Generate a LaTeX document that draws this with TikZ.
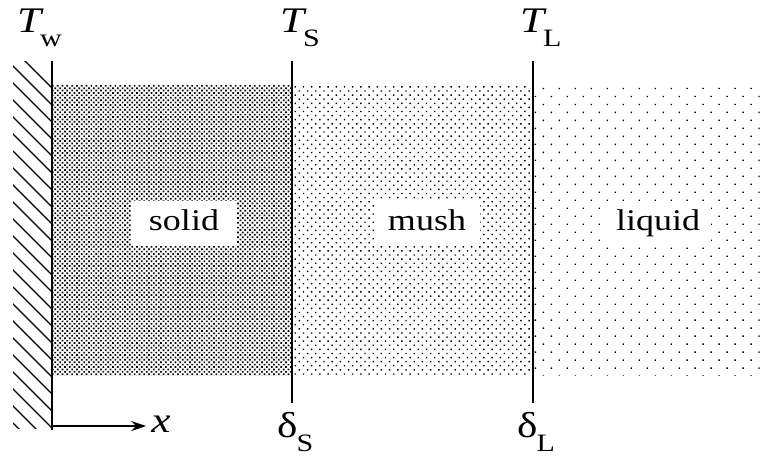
\documentclass[tikz,border=0pt]{standalone}
\usepackage{fontspec}
\setmainfont{Liberation Serif}
\usetikzlibrary{patterns.meta,arrows.meta}
\newcommand{\hwide}[1]{\scalebox{1.2}[1]{#1}}
\newcommand{\bigT}{\fontsize{36}{40}\selectfont}
\newcommand{\subf}{\fontsize{25}{28}\selectfont}
\newcommand{\regf}{\fontsize{30}{33}\selectfont}
\newcommand{\withsub}[2]{{\bigT\hwide{#1}}\kern-1pt\raisebox{-14pt}{\subf\hwide{#2}}}
\tikzset{
  region/.style={fill=white, minimum width=106pt, minimum height=45pt, inner sep=0pt,
    text height=21pt, text depth=7pt, font=\regf},
  bnd/.style={line width=1.5pt},
  lbl/.style={anchor=base west, inner sep=0pt},
}
\begin{document}
\begin{tikzpicture}[x=1pt,y=-1pt]
\useasboundingbox (0,0) rectangle (764,456);
% shaded regions
\fill[pattern={Dots[distance=3.4pt,angle=45,radius=1.2pt]}] (52,85) rectangle (292,375);
\fill[pattern={Dots[distance=5.8pt,angle=45,radius=1.0pt]}] (292,85) rectangle (533,375);
\fill[pattern={Dots[distance=11.3pt,angle=45,radius=0.95pt]}] (533,85) rectangle (760,375);
% hatched wall
\begin{scope}
\clip (13,61) rectangle (52,428);
\foreach \k in {0,...,28} \draw[line width=1.3pt] (8,{44+\k*17}) -- ++(50,50);
\end{scope}
\coordinate (wt) at (52,61);
\coordinate (wb) at (52,430);
\draw[line width=2pt] (wt) -- (wb);
% boundaries
\coordinate (st) at (292,61);
\coordinate (sb) at (292,403);
\coordinate (lt) at (533,61);
\coordinate (lb) at (533,403);
\draw[bnd] (st) -- (sb);
\draw[bnd] (lt) -- (lb);
% region labels
\node[region] (solid) at (184,223) {\hwide{solid}};
\node[region] (mush) at (427,223) {\hwide{mush}};
\node[region] (liquid) at (658,223) {\hwide{liquid}};
% top labels
\node[lbl] (tw) at (17,32) {\withsub{\itshape T}{w}};
\node[lbl] (ts) at (280,32) {\withsub{\itshape T}{S}};
\node[lbl] (tl) at (520,32) {\withsub{\itshape T}{L}};
% bottom labels
\node[lbl] (ds) at (277,437) {\withsub{δ}{S}};
\node[lbl] (dl) at (517,437) {\withsub{δ}{L}};
% x axis
\coordinate (ao) at (52,426);
\node[inner sep=0pt, font=\bigT] (xl) at (161,424) {\hwide{\itshape x}};
\draw[line width=1.2pt, -{Stealth[length=15pt,width=10pt]}] (ao) -- ([xshift=-5pt]xl.west |- ao);
\end{tikzpicture}
\end{document}
